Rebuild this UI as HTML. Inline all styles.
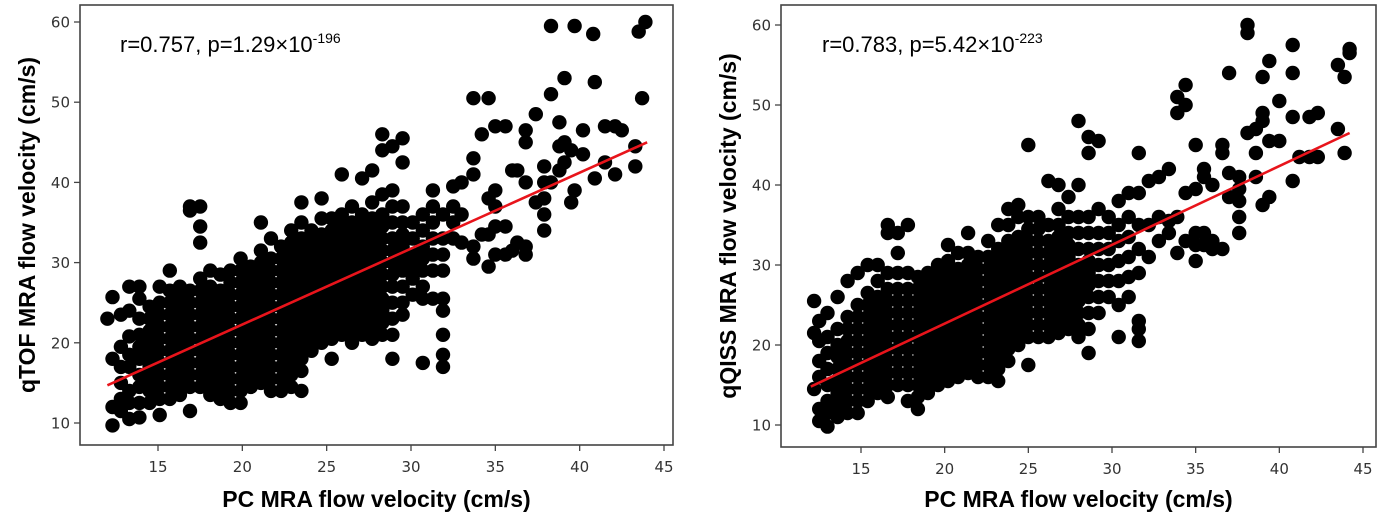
<!DOCTYPE html>
<html><head><meta charset="utf-8"><style>
html,body{margin:0;padding:0;background:#fff;}
svg{display:block;}
</style></head><body>
<svg id="fig" width="1379" height="526" viewBox="0 0 1379 526" xmlns="http://www.w3.org/2000/svg"></svg>
<script>
// Left panel data (x column : y values)
const leftCols = [
[12.0,[23]],[12.3,[9.7,12,18,25.7]],[12.8,[11.5,13,15,17,19.5,23.5]],
[13.3,[10.5,12.5,14,17,18.5,20.8,24,27]],[13.9,[10.7,12.5,14.5,16,18,19.5,21,23,25.5,27]],
[14.5,[12.5,14,15.5,17,18.5,20,21.5,23,24.5]],[15.1,[11,13,14.5,16,17.5,19,20.5,22,23.5,25,27]],
[15.7,[13,14.5,16,17.5,19,20.5,22,23.5,25,26.5,29]],[16.3,[13.5,15,16.5,18,19.5,21,22.5,24,25.5,27]],
[16.9,[11.5,14.5,16,17.5,19,20.5,22,23.5,25,26.5,36.5,37]],[17.5,[14.5,16,17.5,19,20.5,22,23.5,25,26.5,28,32.5,34.5,37]],
[18.1,[13.5,15,16.5,18,19.5,21,22.5,24,25.5,27,29]],[18.7,[13,14.5,16,17.5,19,20.5,22,23.5,25,26.5,28.5]],
[19.3,[12.5,14,15.5,17,18.5,20,21.5,23,24.5,26,27.5,29]],[19.9,[12.5,14,15.5,17,18.5,20,21.5,23,24.5,26,27.5,29,30.5]],
[20.5,[14.5,16,17.5,19,20.5,22,23.5,25,26.5,28,29.5]],[21.1,[15,16.5,18,19.5,21,22.5,24,25.5,27,28.5,30,31.5,35]],
[21.7,[14,15.5,17,18.5,20,21.5,23,24.5,26,27.5,29,30.5,33]],[22.3,[14,15.5,17,18.5,20,21.5,23,24.5,26,27.5,29,30.5,32]],
[22.9,[14.5,16,17.5,19,20.5,22,23.5,25,26.5,28,29.5,31,32.5,34]],[23.5,[14,16.5,18,19.5,21,22.5,24,25.5,27,28.5,30,31.5,33,35,37.5]],
[24.1,[19,20.5,22,23.5,25,26.5,28,29.5,31,32.5,34]],[24.7,[20,21.5,23,24.5,26,27.5,29,30.5,32,33.5,35.5,38]],
[25.3,[18,20.5,22,23.5,25,26.5,28,29.5,31,32.5,34,35.5]],[25.9,[21,22.5,24,25.5,27,28.5,30,31.5,33,34.5,36,41]],
[26.5,[20,21.5,23,24.5,26,27.5,29,30.5,32,33.5,35,37]],[27.1,[21,22.5,24,25.5,27,28.5,30,31.5,33,34.5,36,40.5]],
[27.7,[20.5,22,23.5,25,26.5,28,29.5,31,32.5,34,35.5,37.5,41.5]],[28.3,[21,22.5,24,25.5,27,28.5,30,31.5,33,34.5,36,38.5,44,46]],
[28.9,[18,21,23,25,27,28.5,30,31.5,33,35,37,39,44.5]],[29.5,[23.5,25,27,29,30.5,32,33.5,35,37,42.5,45.5]],
[30.1,[26,28,29.5,31,33,35]],[30.7,[17.5,25.5,27,29,30.5,32,34,36]],[31.3,[25.5,29,31,33,35,37,39]],
[31.9,[17,18.5,21,24,25.5,29,31,33,36]],[32.5,[33,35,37,39.5]],[33.0,[32.5,36,40]],
[33.7,[30.5,32,41,43,50.5]],[34.2,[33.5,46]],[34.6,[29.5,33.5,38,50.5]],[35.0,[31,34.5,37,39,47]],
[35.6,[31,34.5,47]],[36.0,[31.5,41.5]],[36.3,[32.5,41.5]],[36.8,[31,32,40,45,46.5]],[37.4,[37.5,48.5]],
[37.9,[34,36,38,40,42]],[38.3,[40,51,59.5]],[38.8,[41.5,44.5,47.5]],[39.1,[42.5,45,53]],[39.5,[37.5,44]],
[39.7,[39,59.5]],[40.2,[43.5,46.5]],[40.8,[58.5]],[40.9,[40.5,52.5]],[41.5,[42.5,47]],[42.1,[41,47]],
[42.5,[46.5]],[43.3,[42,44.5]],[43.5,[58.8]],[43.7,[50.5]],[43.9,[60]]
];
const leftFit = [[12,14.7],[44,45]];
const leftStat = ["r=0.757, p=1.29×10","-196"];
const leftYLabel = "qTOF MRA flow velocity (cm/s)";

// Right panel data
const rightCols = [
[12.2,[14.5,21.5,25.5]],[12.5,[10.5,12,16,18,20.5,23]],[13.0,[9.8,11.5,13,15,17,19,21,24]],
[13.6,[11,12.5,14,15.5,17,18.5,20,22,26]],[14.2,[11.5,13,14.5,16,17.5,19,20.5,22,23.5,28]],
[14.8,[11.5,13,14.5,16,17.5,19,20.5,22,23.5,25,29]],[15.4,[13,14.5,16,17.5,19,20.5,22,23.5,25,26.5,30]],
[16.0,[14,15.5,17,18.5,20,21.5,23,24.5,26,28,30]],[16.6,[13.5,15,16.5,18,19.5,21,22.5,24,25.5,27,29,34,35]],
[17.2,[15,16.5,18,19.5,21,22.5,24,25.5,27,29,31.5,34]],[17.8,[13,15,16.5,18,19.5,21,22.5,24,25.5,27,29,35]],
[18.4,[12,13.5,15,16.5,18,19.5,21,22.5,24,25.5,27,28.5]],[19.0,[14,15.5,17,18.5,20,21.5,23,24.5,26,27.5,29]],
[19.6,[15,16.5,18,19.5,21,22.5,24,25.5,27,28.5,30]],[20.2,[15.5,17,18.5,20,21.5,23,24.5,26,27.5,29,30.5,32.5]],
[20.8,[16,17.5,19,20.5,22,23.5,25,26.5,28,29.5,31.5]],[21.4,[16.5,18,19.5,21,22.5,24,25.5,27,28.5,30,31.5,34]],
[22.0,[16,17.5,19,20.5,22,23.5,25,26.5,28,29.5,31]],[22.6,[16,17.5,19,20.5,22,23.5,25,26.5,28,29.5,31,33]],
[23.2,[15.5,17,18.5,20,21.5,23,24.5,26,27.5,29,30.5,32,35]],[23.8,[18,19.5,21,22.5,24,25.5,27,28.5,30,31.5,33,35,37]],
[24.4,[20,21.5,23,24.5,26,27.5,29,30.5,32,33.5,36,37.5]],[25.0,[17.5,21,22.5,24,25.5,27,28.5,30,31.5,33,34.5,36,45]],
[25.6,[21,22.5,24,25.5,27,28.5,30,31.5,33,34.5,36]],[26.2,[21,22.5,24,25.5,27,28.5,30,31.5,33,35,40.5]],
[26.8,[21.5,23,24.5,26,27.5,29,30.5,32,33.5,35,37,40]],[27.4,[22,23.5,25,26.5,28,29.5,31,32.5,34,36,38.5]],
[28.0,[21,22.5,24,25.5,27,28.5,30,32,34,36,40,48]],[28.6,[19,22,24,26,27.5,29,30.5,32,34,36,44,46]],
[29.2,[24,26,28,30,32,34,37,45.5]],[29.8,[26,28,30,32,34,36]],[30.4,[21,25,28,30.5,33,35,38]],
[31.0,[26,28.5,31,33.5,36,39]],[31.6,[20.5,22,23,29,32,35,39,44]],[32.2,[31,35,40.5]],[32.8,[33,36,41]],
[33.4,[34,35.5,42]],[33.9,[31.5,36,49,51]],[34.4,[33,39,50,52.5]],[35.0,[30.5,32.5,34,39.5,45]],
[35.5,[32.5,34,41,42]],[36.0,[32,33,40]],[36.6,[32,44,45]],[37.0,[38.5,41.5,54]],[37.6,[34,36,38,39.5,41]],
[38.1,[46.5,59,60]],[38.6,[41,44,47]],[39.0,[37.5,48,49,53.5]],[39.4,[38.5,45.5,55.5]],[40.0,[45.5,50.5]],
[40.8,[40.5,48.5,54,57.5]],[41.2,[43.5]],[41.8,[43.5,48.5]],[42.3,[43.5,49]],[43.5,[47,55]],[43.9,[44,53.5]],[44.2,[56.5,57]]
];
const rightFit = [[12,14.8],[44.2,46.5]];
const rightStat = ["r=0.783, p=5.42×10","-223"];
const rightYLabel = "qQISS MRA flow velocity (cm/s)";

const xTicks = [15,20,25,30,35,40,45];
const yTicks = [10,20,30,40,50,60];
const xLabel = "PC MRA flow velocity (cm/s)";

const NS = "http://www.w3.org/2000/svg";
const svg = document.getElementById('fig');
function mk(tag, attrs, parent){const e=document.createElementNS(NS,tag);for(const k in attrs)e.setAttribute(k,attrs[k]);(parent||svg).appendChild(e);return e;}

function panel(p){
  const g = mk('g',{});
  
  
  const X = v => p.x15 + (v-15)*(p.x45-p.x15)/30;
  const Y = v => p.y10 + (v-10)*(p.y60-p.y10)/50;
  const pts = mk('g',{fill:'#000'},g);
  
  
  p.cols.forEach(c=>{c[1].forEach(yv=>{
    const d = mk('circle',{cx:X(c[0]).toFixed(1),cy:Y(yv).toFixed(1),r:7.2},pts);
    
    
  });});
  const l = mk('line',{x1:X(p.fit[0][0]),y1:Y(p.fit[0][1]),x2:X(p.fit[1][0]),y2:Y(p.fit[1][1]),stroke:'#e8141b','stroke-width':2.6},g);
  
  
  const f = mk('rect',{x:p.L,y:p.T,width:p.R-p.L,height:p.B-p.T,fill:'none',stroke:'#444','stroke-width':1.6},g);
  
  
  xTicks.forEach(t=>{
    mk('line',{x1:X(t),x2:X(t),y1:p.B,y2:p.B+6,stroke:'#444','stroke-width':1.3},g);
    const tx = mk('text',{x:X(t),y:p.B+27,'text-anchor':'middle','font-family':'DejaVu Sans, sans-serif','font-size':15,fill:'#333'},g);
    tx.textContent=t;
    
    
  });
  yTicks.forEach(t=>{
    mk('line',{x1:p.L-6,x2:p.L,y1:Y(t),y2:Y(t),stroke:'#444','stroke-width':1.3},g);
    const tx = mk('text',{x:p.L-10,y:Y(t)+5.5,'text-anchor':'end','font-family':'DejaVu Sans, sans-serif','font-size':15,fill:'#333'},g);
    tx.textContent=t;
    
    
  });
  const st = mk('text',{x:p.sx,y:52,'font-family':'Liberation Sans, sans-serif','font-size':22,fill:'#000'},g);
  
  
  st.appendChild(document.createTextNode(p.stat[0]));
  const sup = mk('tspan',{dy:-9,'font-size':14},st); sup.textContent=p.stat[1];
  const xl = mk('text',{x:(p.L+p.R)/2,y:507,'text-anchor':'middle','font-family':'Liberation Sans, sans-serif','font-size':23,'font-weight':'bold',fill:'#000'},g);
  xl.textContent = xLabel;
  
  
  const cy=(p.T+p.B)/2;
  const yl = mk('text',{x:0,y:0,transform:`translate(${p.yx},${cy}) rotate(-90)`,'text-anchor':'middle','font-family':'Liberation Sans, sans-serif','font-size':23,'font-weight':'bold',fill:'#000'},g);
  yl.textContent = p.ylabel;
  
  
}
panel({name:'left-chart',cols:leftCols,fit:leftFit,stat:leftStat,ylabel:leftYLabel,L:80,R:673,T:5,B:445,x15:158,x45:664,y10:423,y60:22,sx:120,yx:35});
panel({name:'right-chart',cols:rightCols,fit:rightFit,stat:rightStat,ylabel:rightYLabel,L:781,R:1376,T:5,B:447,x15:861,x45:1363,y10:425,y60:25,sx:822,yx:736});
</script>
</body></html>
